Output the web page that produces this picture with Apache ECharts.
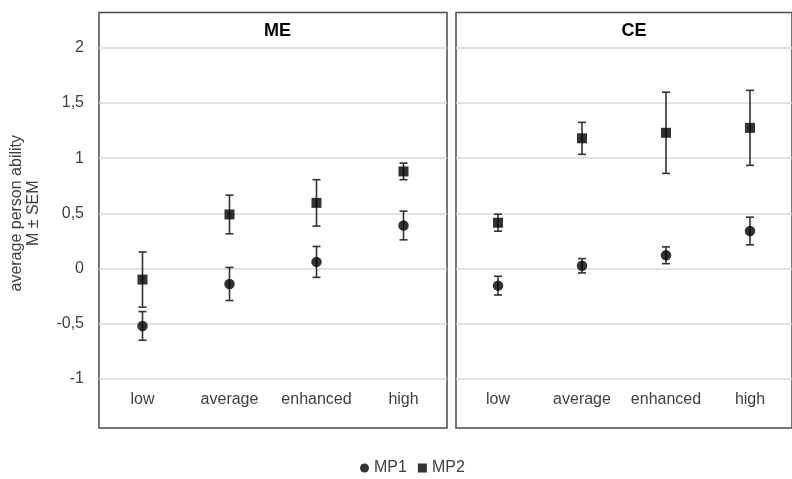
<!DOCTYPE html>
<html><head><meta charset="utf-8">
<script src="https://cdn.jsdelivr.net/npm/echarts@6/dist/echarts.min.js"></script>
<style>html,body{margin:0;padding:0;background:#fff}#c{width:792px;height:479px}</style>
</head><body><div id="c"></div>
<script>
const categories = ['low', 'average', 'enhanced', 'high'];
const panels = ['ME', 'CE'];
const yTicks = [-1, -0.5, 0, 0.5, 1, 1.5, 2];
// means
const ME_MP1 = [-0.52, -0.14, 0.06, 0.39];
const ME_MP2 = [-0.10, 0.49, 0.595, 0.88];
const CE_MP1 = [-0.155, 0.025, 0.12, 0.34];
const CE_MP2 = [0.415, 1.18, 1.23, 1.275];
// SEM
const ME_MP1_SEM = [0.13, 0.15, 0.14, 0.13];
const ME_MP2_SEM = [0.25, 0.175, 0.21, 0.075];
const CE_MP1_SEM = [0.085, 0.065, 0.076, 0.125];
const CE_MP2_SEM = [0.077, 0.145, 0.368, 0.34];

const font = 'Liberation Sans, Arial, sans-serif';
const grey = '#404040';

function errData(m, s) { return m.map((v, i) => [i, v - s[i], v + s[i]]); }
function errSeries(idx, m, s) {
  return {
    type: 'custom', xAxisIndex: idx, yAxisIndex: idx, z: 3, silent: true,
    data: errData(m, s),
    renderItem: function (params, api) {
      const x = api.value(0);
      const lo = api.coord([x, api.value(1)]);
      const hi = api.coord([x, api.value(2)]);
      const hw = 4;
      const st = { stroke: '#333', lineWidth: 1.6 };
      return {
        type: 'group', children: [
          { type: 'line', shape: { x1: lo[0], y1: lo[1], x2: hi[0], y2: hi[1] }, style: st },
          { type: 'line', shape: { x1: lo[0] - hw, y1: lo[1], x2: lo[0] + hw, y2: lo[1] }, style: st },
          { type: 'line', shape: { x1: hi[0] - hw, y1: hi[1], x2: hi[0] + hw, y2: hi[1] }, style: st }
        ]
      };
    }
  };
}
function ptSeries(idx, name, m, sym, size) {
  return {
    type: 'scatter', name: name, xAxisIndex: idx, yAxisIndex: idx, z: 5,
    symbol: sym, symbolSize: size, data: m.map((v, i) => [i, v]),
    itemStyle: { color: '#000' }
  };
}

const grids = [
  { left: 99, top: 12.5, width: 348, height: 415.5 },
  { left: 456, top: 12.5, width: 346, height: 415.5 }
];
const yMin = -1.445, yMax = 2.32;

const option = {
  animation: false,
  backgroundColor: '#fff',
  textStyle: { fontFamily: font },
  title: panels.map((p, i) => ({
    text: p, left: i === 0 ? 272.5 : 629, top: 17, textAlign: 'center',
    textStyle: { fontFamily: font, fontSize: 18, fontWeight: 'bold', color: '#000' }
  })),
  legend: {
    left: 355, top: 455, itemWidth: 9, itemHeight: 9, itemGap: 11,
    textStyle: { fontFamily: font, fontSize: 16, color: grey },
    data: [{ name: 'MP1', icon: 'circle' }, { name: 'MP2', icon: 'rect' }]
  },
  grid: grids.map(g => Object.assign({ show: true, borderColor: '#4a4a4a', borderWidth: 1.5, backgroundColor: 'transparent' }, g)),
  xAxis: [0, 1].map(i => ({
    type: 'category', gridIndex: i, data: categories,
    axisLine: { show: false }, axisTick: { show: false },
    axisLabel: { inside: true, interval: 0, margin: 20, fontFamily: font, fontSize: 16, color: grey }
  })),
  yAxis: [0, 1].map(i => ({
    type: 'value', gridIndex: i, min: yMin, max: yMax,
    name: i === 0 ? 'average person ability\nM ± SEM' : '',
    nameLocation: 'middle', nameRotate: 90, nameGap: 57,
    nameTextStyle: { fontFamily: font, fontSize: 16, color: grey, lineHeight: 17, padding: [0, 0, 0, 14] },
    axisLine: { show: false },
    axisTick: { show: false, customValues: yTicks },
    axisLabel: {
      show: i === 0, customValues: yTicks, margin: 15, fontFamily: font, fontSize: 16, color: grey,
      formatter: v => String(v).replace('.', ',')
    },
    splitLine: { show: true, lineStyle: { color: '#d9d9d9', width: 1.5 } }
  })),
  series: [
    errSeries(0, ME_MP1, ME_MP1_SEM),
    errSeries(0, ME_MP2, ME_MP2_SEM),
    errSeries(1, CE_MP1, CE_MP1_SEM),
    errSeries(1, CE_MP2, CE_MP2_SEM),
    ptSeries(0, 'MP1', ME_MP1, 'circle', 10.5),
    ptSeries(0, 'MP2', ME_MP2, 'rect', 10),
    ptSeries(1, 'MP1', CE_MP1, 'circle', 10.5),
    ptSeries(1, 'MP2', CE_MP2, 'rect', 10)
  ]
};
echarts.init(document.getElementById('c'), null, { renderer: 'canvas' }).setOption(option);
</script></body></html>
